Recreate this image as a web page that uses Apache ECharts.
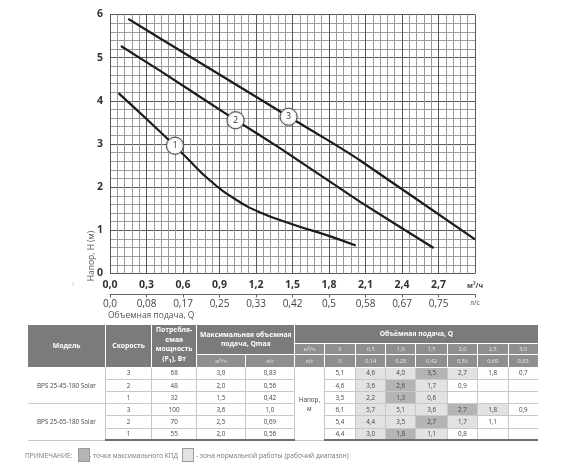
<!DOCTYPE html>
<html><head><meta charset="utf-8">
<script src="https://cdn.jsdelivr.net/npm/echarts@6/dist/echarts.min.js"></script>
<style>
html,body{margin:0;padding:0;background:#fff;}
#chart{position:absolute;left:0;top:0;width:570px;height:472px;}
#tbl{position:absolute;left:27px;top:324px;border-collapse:collapse;table-layout:fixed;width:511px;font-family:'Open Sans',sans-serif;font-size:6.3px;color:#444;z-index:2;}
#tbl td{padding:0;text-align:center;vertical-align:middle;line-height:8px;overflow:hidden;white-space:nowrap;box-sizing:border-box;}
#tbl td.h{background:#7b7b7b;color:#fff;font-weight:700;border:1px solid #fff;font-size:6.8px;line-height:9.6px;white-space:normal;}
#tbl td.s{background:#8f8f8f;color:#e8e8e8;border:1px solid #fff;font-size:5.6px;}
#tbl td.d{border-bottom:1px solid #c8c8c8;border-left:1px solid #c8c8c8;height:12.2px;}
#tbl td.first{border-left:none;}
#tbl tr.sep td.d{border-top:1px solid #8a8a8a;}
#tbl tr.last td{border-bottom:2px solid #707070;}
#tbl td.z1{background:#e2e2e2;}
#tbl td.z2{background:#b4b4b4;}
#note{position:absolute;left:25px;top:448px;font-family:'Open Sans',sans-serif;font-size:6.6px;color:#777;height:14px;width:540px;}
#note span{position:absolute;top:3px;white-space:nowrap;}
#note i{position:absolute;top:0;width:10px;height:12px;border:1px solid #9a9a9a;}
</style></head>
<body>
<div id="chart"></div>
<table id="tbl"></table>
<div id="note">
<span style="left:0">ПРИМЕЧАНИЕ:</span>
<i style="left:53px;background:#b4b4b4"></i>
<span style="left:64px">- точка максимального КПД</span>
<i style="left:157px;background:#e2e2e2"></i>
<span style="left:171px">- зона нормальной работы (рабочий диапазон)</span>
</div>
<script>
// ---------- chart data ----------
const m3hLabels = ['0,0','0,3','0,6','0,9','1,2','1,5','1,8','2,1','2,4','2,7','м³/ч'];
const lpsLabels = ['0,0','0,08','0,17','0,25','0,33','0,42','0,5','0,58','0,67','0,75','л/с'];
const curve1 = [[0.07,4.18],[0.41,3.29],[0.62,2.71],[0.82,2.16],[1.03,1.72],[1.23,1.42],[1.51,1.13],[1.78,0.89],[2.02,0.65]];
const curve2 = [[0.09,5.27],[0.41,4.70],[1.03,3.56],[1.40,2.90],[2.05,1.67],[2.66,0.59]];
const curve3 = [[0.15,5.90],[0.41,5.45],[1.47,3.63],[1.79,3.09],[2.05,2.63],[3.00,0.79]];
const curveNames = ['1','2','3'];
const labelCoords = [[0.534,2.96],[1.032,3.55],[1.468,3.63]];

// ---------- table data ----------
const models = ['BPS 25-45-180 Solar','BPS 25-65-180 Solar'];
const speeds = [3,2,1,3,2,1];
const powerW = [68,48,32,100,70,55];
const qmaxM3h = ['3,0','2,0','1,5','3,6','2,5','2,0'];
const qmaxLs = ['0,83','0,56','0,42','1,0','0,69','0,56'];
const flowM3h = ['0','0,5','1,0','1,5','2,0','2,5','3,0'];
const flowLs = ['0','0,14','0,28','0,42','0,56','0,69','0,83'];
const headRows = [
  ['5,1','4,6','4,0','3,5','2,7','1,8','0,7'],
  ['4,6','3,6','2,6','1,7','0,9','',''],
  ['3,5','2,2','1,3','0,6','','',''],
  ['6,1','5,7','5,1','3,6','2,7','1,8','0,9'],
  ['5,4','4,4','3,5','2,7','1,7','1,1',''],
  ['4,4','3,0','1,8','1,1','0,8','','']
];
// 0 = normal, 1 = working range, 2 = max efficiency point
const zoneRows = [
  [0,1,1,2,1,0,0],
  [0,1,2,1,0,0,0],
  [0,1,2,1,0,0,0],
  [0,1,1,1,2,1,0],
  [0,1,1,2,1,0,0],
  [0,1,2,1,0,0,0]
];

// ---------- build table ----------
(function(){
  const colW = [78.3,45.7,45.3,48.3,49.7,29.3,31.7,30,30,31.7,30,30.6,30];
  let h = '<colgroup>' + colW.map(w=>'<col style="width:'+w+'px">').join('') + '</colgroup>';
  h += '<tr style="height:18px">'
    + '<td class="h" rowspan="3">Модель</td>'
    + '<td class="h" rowspan="3">Скорость</td>'
    + '<td class="h" rowspan="3">Потребля-<br>емая<br>мощность<br>(P<sub style="font-size:5px">1</sub>), Вт</td>'
    + '<td class="h" rowspan="2" colspan="2">Максимальная объемная<br>подача, Qmax</td>'
    + '<td class="h" colspan="8">Объёмная подача, Q</td></tr>';
  h += '<tr style="height:10.7px"><td class="s">м³/ч</td>' + flowM3h.map(v=>'<td class="s">'+v+'</td>').join('') + '</tr>';
  h += '<tr style="height:12.3px"><td class="s">м³/ч</td><td class="s">л/с</td><td class="s">л/с</td>' + flowLs.map(v=>'<td class="s">'+v+'</td>').join('') + '</tr>';
  for (let r=0;r<6;r++){
    let cls = (r===3?'sep':'') + (r===5?' last':'');
    h += '<tr class="'+cls+'" style="height:12.2px">';
    if (r%3===0) h += '<td class="d first" rowspan="3" style="text-align:center">'+models[r/3]+'</td>';
    h += '<td class="d">'+speeds[r]+'</td><td class="d">'+powerW[r]+'</td><td class="d">'+qmaxM3h[r]+'</td><td class="d">'+qmaxLs[r]+'</td>';
    if (r===0) h += '<td class="d" rowspan="6" style="line-height:9px">Напор,<br>м</td>';
    for (let c=0;c<7;c++){
      h += '<td class="d z'+zoneRows[r][c]+'">'+headRows[r][c]+'</td>';
    }
    h += '</tr>';
  }
  document.getElementById('tbl').innerHTML = h;
})();

// ---------- chart ----------
const chart = echarts.init(document.getElementById('chart'));
const FONT = "'Open Sans', sans-serif";
function idx(v){ return Math.round(v/0.3); }
const curves = [curve1, curve2, curve3];
const series = curves.map((d,i)=>({
  type:'line', name:curveNames[i], data:d, showSymbol:false, smooth: i===0 ? 0.5 : 0.15,
  lineStyle:{color:'#1c1c1c', width:2.2}, z:3,
  markPoint:{
    symbol:'circle', symbolSize:17, animation:false,
    itemStyle:{color:'#fff', borderColor:'#555', borderWidth:1, shadowBlur:2, shadowColor:'rgba(0,0,0,0.35)'},
    label:{show:true, formatter:'{b}', color:'#333', fontSize:9, fontFamily:FONT},
    data:[{name:curveNames[i], coord:labelCoords[i]}]
  }
}));
chart.setOption({
  animation:false,
  backgroundColor:'transparent',
  grid:{left:110, top:14.5, width:365, height:259},
  xAxis:[{
    type:'value', min:0, max:3, interval:0.3,
    axisLine:{show:false}, axisTick:{show:false},
    axisLabel:{margin:6, color:'#333', fontWeight:'bold', fontSize:10.5, fontFamily:FONT,
      showMinLabel:true, showMaxLabel:true,
      formatter:v=>{const i=idx(v); return i===10 ? '{u|'+m3hLabels[i]+'}' : m3hLabels[i];},
      rich:{u:{fontSize:7, color:'#444', fontWeight:'bold', fontFamily:FONT, padding:[3,0,0,0]}}},
    splitLine:{show:true, lineStyle:{color:'#595959', width:1}},
    minorTick:{show:false, splitNumber:5},
    minorSplitLine:{show:true, lineStyle:{color:'#9a9a9a', width:1}}
  },{
    type:'value', min:0, max:3, interval:0.3, position:'bottom', offset:21,
    axisLine:{show:true, lineStyle:{color:'#666', width:1}},
    axisTick:{show:true, length:3, lineStyle:{color:'#666'}},
    axisLabel:{margin:5, color:'#444', fontSize:10, fontFamily:FONT,
      showMinLabel:true, showMaxLabel:true,
      formatter:v=>{const i=idx(v); return i===10 ? '{u|'+lpsLabels[i]+'}' : lpsLabels[i];},
      rich:{u:{fontSize:7, color:'#555', fontFamily:FONT}}},
    splitLine:{show:false}
  }],
  yAxis:{
    type:'value', min:0, max:6, interval:1,
    axisLine:{show:false}, axisTick:{show:false},
    axisLabel:{margin:7, color:'#333', fontWeight:'bold', fontSize:10.5, fontFamily:FONT},
    splitLine:{show:true, lineStyle:{color:'#595959', width:1}},
    minorTick:{show:false, splitNumber:5},
    minorSplitLine:{show:true, lineStyle:{color:'#9a9a9a', width:1}}
  },
  series:series,
  graphic:[
    {type:'text', x:92, y:256, rotation:Math.PI/2,
     style:{text:'Напор, H (м)', fontSize:8.5, fill:'#555', fontFamily:FONT, align:'center', verticalAlign:'middle'}},
    {type:'text', x:108, y:311,
     style:{text:'Объемная подача, Q', fontSize:8.5, fill:'#555', fontFamily:FONT, align:'left', verticalAlign:'top'}},
    {type:'text', x:73, y:284,
     style:{text:'i', fontSize:6, fill:'#aaa', fontFamily:FONT, align:'center', verticalAlign:'middle'}}
  ]
});
</script>
</body></html>
